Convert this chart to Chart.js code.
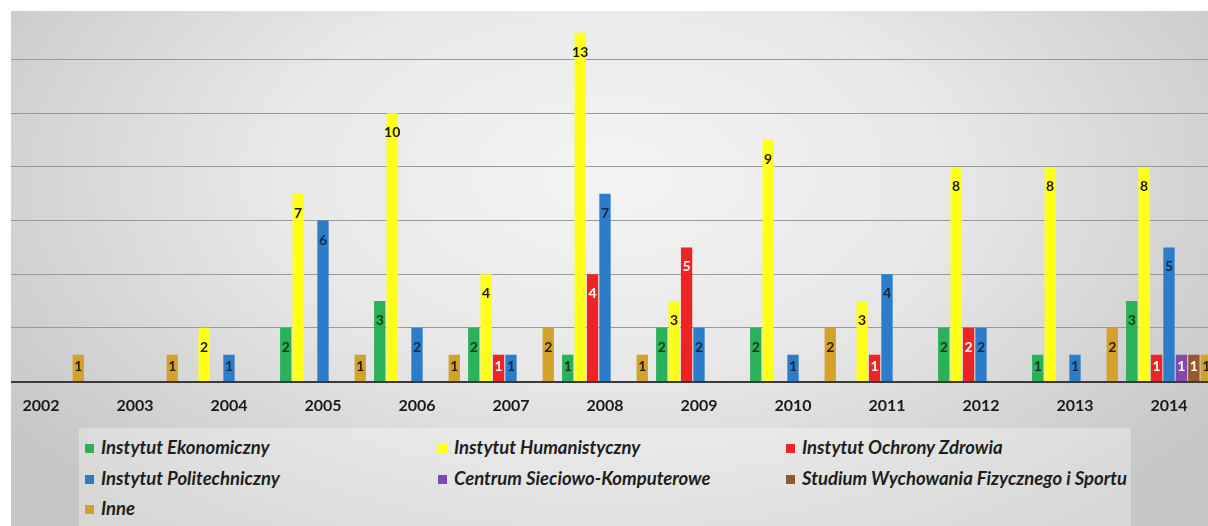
<!DOCTYPE html>
<html>
<head>
<meta charset="utf-8">
<script src="https://cdn.jsdelivr.net/npm/chart.js@4.4.1/dist/chart.umd.min.js"></script>
<style>
  html, body { margin: 0; padding: 0; background: #fff; }
  body { width: 1208px; height: 526px; position: relative; overflow: hidden; font-family: Lato, sans-serif; }
  #panel {
    position: absolute; left: 11px; top: 11px; width: 1197px; height: 515px; overflow: hidden;
    background: radial-gradient(ellipse 62% 85% at 50% 32%, #f4f4f4 0%, #e8e8e8 45%, #c6c6c6 100%);
  }
  #chart { position: absolute; left: -17px; top: -11px; }
  #legend {
    position: absolute; left: 68px; top: 417px; width: 1052px; height: 110px;
    background: rgba(255, 255, 255, 0.32);
  }
  .item {
    position: absolute; height: 22px; line-height: 22px; white-space: nowrap;
    font: italic bold 18.5px Lato, sans-serif; color: #1e1e1e;
  }
  .item i { display: inline-block; width: 9px; height: 9px; margin-right: 7px; vertical-align: 1px; }
</style>
</head>
<body>
<div id="panel">
  <canvas id="chart" width="1222" height="420" style="width:1222px;height:420px"></canvas>
  <div id="legend"></div>
</div>
<script>
const years = ['2002', '2003', '2004', '2005', '2006', '2007', '2008', '2009', '2010', '2011', '2012', '2013', '2014'];

const ekonomiczny    = [0, 0, 0, 2, 3, 2, 1, 2, 2, 0, 2, 1, 3];
const humanistyczny  = [0, 0, 2, 7, 10, 4, 13, 3, 9, 3, 8, 8, 8];
const ochronyZdrowia = [0, 0, 0, 0, 0, 1, 4, 5, 0, 1, 2, 0, 1];
const politechniczny = [0, 0, 1, 6, 2, 1, 7, 2, 1, 4, 2, 1, 5];
const centrum        = [0, 0, 0, 0, 0, 0, 0, 0, 0, 0, 0, 0, 1];
const studium        = [0, 0, 0, 0, 0, 0, 0, 0, 0, 0, 0, 0, 1];
const inne           = [1, 1, 0, 1, 1, 2, 1, 0, 2, 0, 0, 2, 1];

const series = [
  { name: 'Instytut Ekonomiczny', data: ekonomiczny, color: '#2bb159', text: '#12351e' },
  { name: 'Instytut Humanistyczny', data: humanistyczny, color: '#ffff1a', text: '#1a1a1a' },
  { name: 'Instytut Ochrony Zdrowia', data: ochronyZdrowia, color: '#ee2424', text: '#ffffff' },
  { name: 'Instytut Politechniczny', data: politechniczny, color: '#2b7cc9', text: '#0f2744' },
  { name: 'Centrum Sieciowo-Komputerowe', data: centrum, color: '#8049b0', text: '#ffffff' },
  { name: 'Studium Wychowania Fizycznego i Sportu', data: studium, color: '#93582c', text: '#ffffff' },
  { name: 'Inne', data: inne, color: '#d4a22b', text: '#2a1c00' },
];

// numbers written inside the top of each bar
const valueLabels = {
  id: 'valueLabels',
  afterDatasetsDraw(chart) {
    const { ctx } = chart;
    ctx.save();
    ctx.font = 'bold 14px Lato';
    ctx.textAlign = 'center';
    ctx.textBaseline = 'middle';
    chart.data.datasets.forEach((ds, i) => {
      chart.getDatasetMeta(i).data.forEach((bar, j) => {
        const v = ds.data[j];
        if (!v) return;
        const h = bar.base - bar.y;
        ctx.fillStyle = series[i].text;
        ctx.fillText(String(v), bar.x, bar.y + Math.min(19.5, h * 0.45));
      });
    });
    ctx.restore();
  },
};

const ctx = document.getElementById('chart').getContext('2d');

new Chart(ctx, {
  type: 'bar',
  data: {
    labels: years,
    datasets: series.map((s) => ({
      label: s.name,
      data: s.data,
      backgroundColor: s.color,
      borderWidth: 0,
      categoryPercentage: 0.925,
      barPercentage: 0.91,
    })),
  },
  options: {
    responsive: false,
    animation: false,
    layout: { padding: { top: 6, left: 0, right: 0, bottom: 0 } },
    plugins: {
      legend: { display: false },
      tooltip: { enabled: false },
    },
    scales: {
      x: {
        grid: { display: false, drawTicks: false },
        border: { color: '#3a3a3a', width: 2 },
        ticks: {
          color: '#1a1a1a',
          font: { family: 'Lato', weight: 'bold', size: 16 },
          padding: 15,
          maxRotation: 0,
          autoSkip: false,
        },
        afterFit: (scale) => { scale.height = 38.5; },
      },
      y: {
        min: 0,
        max: 14,
        ticks: { display: false, stepSize: 2 },
        grid: {
          drawTicks: false,
          color: (c) => (c.tick.value === 0 ? 'rgba(0,0,0,0)' : '#9a9a9a'),
        },
        border: { display: false },
        afterFit: (scale) => { scale.width = 0; },
      },
    },
  },
  plugins: [valueLabels],
});

// legend: three columns, filled row by row
const legend = document.getElementById('legend');
const colX = [6, 359, 707];
const rowY = [8, 38.5, 69];
series.forEach((s, i) => {
  const el = document.createElement('div');
  el.className = 'item';
  el.style.left = colX[i % 3] + 'px';
  el.style.top = rowY[Math.floor(i / 3)] + 'px';
  el.innerHTML = '<i style="background:' + s.color + '"></i>' + s.name;
  legend.appendChild(el);
});
</script>
</body>
</html>
